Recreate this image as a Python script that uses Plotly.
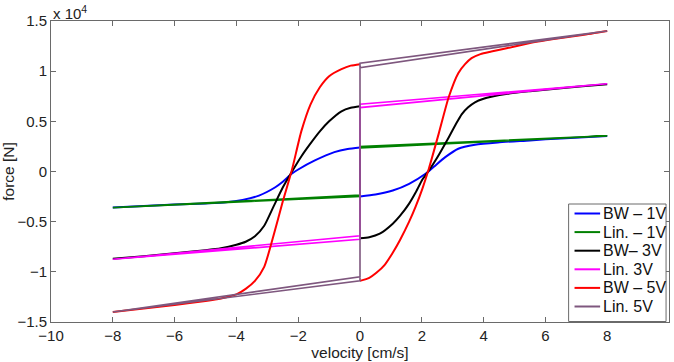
import plotly.graph_objects as go

# force values are in units of 1e4 N
bw1_left_v = [-8, -7, -6, -5, -4.33, -3.8, -3.27, -2.74, -2.53, -2.2, -2.0, -1.46, -0.83, -0.4, 0]
bw1_left_f = [-0.36, -0.345, -0.33, -0.318, -0.307, -0.283, -0.24, -0.157, -0.11, -0.02, 0.02, 0.11, 0.193, 0.225, 0.24]
bw1_right_v = [0, 0.5, 1.06, 1.59, 2.12, 2.4, 2.76, 3.18, 3.72, 4.46, 5.5, 6.5, 8]
bw1_right_f = [-0.25, -0.23, -0.19, -0.123, -0.023, 0.05, 0.143, 0.227, 0.267, 0.29, 0.31, 0.33, 0.355]

bw3_left_v = [-8, -7, -6, -5, -4.5, -4.0, -3.7, -3.4, -3.1, -2.8, -2.5, -2.2, -1.9, -1.6, -1.3, -1.0, -0.6, -0.3, 0]
bw3_left_f = [-0.87, -0.845, -0.815, -0.785, -0.765, -0.73, -0.70, -0.645, -0.54, -0.35, -0.16, 0.0, 0.15, 0.28, 0.40, 0.50, 0.60, 0.635, 0.65]
bw3_right_v = [0, 0.3, 0.64, 1.06, 1.3, 1.59, 1.8, 2.02, 2.23, 2.5, 2.87, 3.1, 3.29, 3.5, 3.72, 4.0, 4.25, 4.78, 5.5, 6.5, 7.2, 8]
bw3_right_f = [-0.665, -0.655, -0.62, -0.52, -0.44, -0.32, -0.21, -0.08, 0.01, 0.14, 0.34, 0.47, 0.57, 0.64, 0.69, 0.725, 0.745, 0.775, 0.80, 0.83, 0.85, 0.87]

bw5_left_v = [-8, -7, -6, -5, -4.5, -4.0, -3.7, -3.4, -3.1, -2.8, -2.5, -2.2, -1.9, -1.6, -1.3, -1.0, -0.6, -0.3, 0]
bw5_left_f = [-1.40, -1.365, -1.33, -1.29, -1.265, -1.225, -1.17, -1.09, -0.95, -0.64, -0.30, 0.02, 0.40, 0.67, 0.84, 0.95, 1.02, 1.055, 1.07]
bw5_right_v = [0, 0.3, 0.53, 0.8, 1.06, 1.3, 1.59, 1.8, 2.02, 2.23, 2.55, 2.87, 3.18, 3.4, 3.61, 3.9, 4.25, 4.78, 5.5, 6.5, 7.2, 8]
bw5_right_f = [-1.09, -1.06, -1.01, -0.93, -0.81, -0.68, -0.50, -0.35, -0.17, 0.03, 0.38, 0.74, 0.98, 1.07, 1.13, 1.17, 1.195, 1.23, 1.28, 1.33, 1.36, 1.40]

# linear models: closed loop (-8 -> 0 inner, vertical, 0 -> 8 inner, back outer, vertical, back to -8)
lin_v = [-8, 0, 0, 8, 0, 0, -8]
lin1_f = [-0.36, -0.235, 0.235, 0.355, 0.25, -0.25, -0.36]
lin3_f = [-0.875, -0.64, 0.637, 0.875, 0.67, -0.675, -0.875]
lin5_f = [-1.40, -1.05, 1.035, 1.40, 1.08, -1.09, -1.40]

legend_names = ["BW – 1V", "Lin. – 1V", "BW– 3V", "Lin. 3V", "BW – 5V", "Lin. 5V"]
colors = ["#0000FF", "#008000", "#000000", "#FF00FF", "#FF0000", "#7E577E"]

FONT = "Liberation Sans, Arial, Helvetica"
fig = go.Figure()

def bw(name, lv, lf, rv, rf, color):
    fig.add_trace(go.Scatter(x=lv + [None] + rv, y=lf + [None] + rf, mode="lines",
                             line=dict(color=color, width=2, shape="spline", smoothing=0.6),
                             name=name, connectgaps=False))

def lin(name, f, color):
    fig.add_trace(go.Scatter(x=lin_v, y=f, mode="lines",
                             line=dict(color=color, width=1.6), name=name))

bw(legend_names[0], bw1_left_v, bw1_left_f, bw1_right_v, bw1_right_f, colors[0])
lin(legend_names[1], lin1_f, colors[1])
bw(legend_names[2], bw3_left_v, bw3_left_f, bw3_right_v, bw3_right_f, colors[2])
lin(legend_names[3], lin3_f, colors[3])
bw(legend_names[4], bw5_left_v, bw5_left_f, bw5_right_v, bw5_right_f, colors[4])
lin(legend_names[5], lin5_f, colors[5])

# plot area in pixels (for placing the legend box)
L, R, T, B = 42, 670, 21, 322
def px(xp):
    return (xp - L) / (R - L)
def py(yp):
    return (B - yp) / (B - T)

shapes = [dict(type="rect", xref="paper", yref="paper",
               x0=px(568), x1=px(667), y0=py(321.5), y1=py(204),
               line=dict(color="#6a6a6a", width=1), fillcolor="white", layer="above")]
annotations = [dict(text="x 10<sup>4</sup>", x=0, y=1, xref="paper", yref="paper",
                    xanchor="left", yanchor="bottom", showarrow=False,
                    font=dict(family=FONT, size=15, color="#222"), yshift=-3)]
row0, pitch = 213.5, 18.6
for i, (nm, c) in enumerate(zip(legend_names, colors)):
    yy = py(row0 + i * pitch)
    shapes.append(dict(type="line", xref="paper", yref="paper", x0=px(574), x1=px(600),
                       y0=yy, y1=yy, line=dict(color=c, width=2), layer="above"))
    annotations.append(dict(text=nm, x=px(601), y=yy, xref="paper", yref="paper",
                            xanchor="left", yanchor="middle", showarrow=False,
                            font=dict(family=FONT, size=16, color="#111")))

axis_common = dict(showline=True, mirror="ticks", ticks="inside", ticklen=5,
                   linecolor="#6a6a6a", tickcolor="#6a6a6a", linewidth=1,
                   showgrid=False, zeroline=False,
                   tickfont=dict(family=FONT, size=15, color="#222"))

fig.update_layout(
    width=674, height=362,
    margin=dict(l=L, r=674 - R, t=T, b=362 - B),
    paper_bgcolor="white", plot_bgcolor="white",
    font=dict(family=FONT, size=15, color="#222"),
    xaxis=dict(range=[-10, 10], dtick=2, tick0=-10,
               title=dict(text="velocity [cm/s]", font=dict(size=15.5), standoff=1), **axis_common),
    yaxis=dict(range=[-1.5, 1.5], dtick=0.5, tick0=-1.5,
               title=dict(text="force [N]", font=dict(size=15.5), standoff=3), **axis_common),
    showlegend=False,
    shapes=shapes,
    annotations=annotations,
)

fig.write_html("out.html")
